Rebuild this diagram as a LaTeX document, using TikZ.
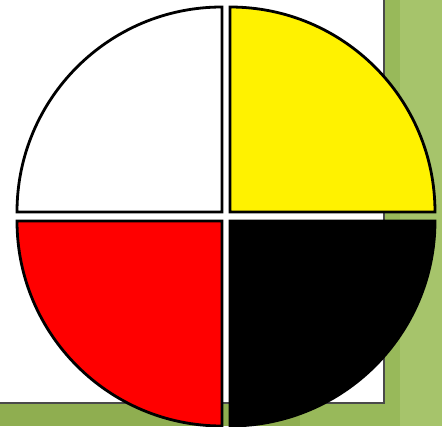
\documentclass[tikz,border=0pt]{standalone}
\begin{document}
\begin{tikzpicture}[x=1pt,y=1pt]
\definecolor{gdark}{HTML}{8FAE50}
\definecolor{gmid}{HTML}{98B95A}
\definecolor{glight}{HTML}{A6C46B}
\definecolor{frame}{HTML}{4A4A4A}
\tikzset{quad/.style={draw=black,line width=2.8pt,line join=miter}}
\useasboundingbox (0,0) rectangle (442,426);
% background
\fill[gdark] (0,0) rectangle (442,426);
\fill[gmid] (300,0) rectangle (442,426);
\fill[glight] (400,0) rectangle (442,426);
\fill[gmid] (385,23) rectangle (400,426);
\fill[white] (0,23) rectangle (384,426);
\draw[frame,line width=1.6pt] (384,426) -- (384,23) -- (0,23);
% quadrants
\path[quad,fill=white] (222,214) -- ++(-205,0) arc[start angle=180,end angle=90,radius=205] -- cycle;
\path[quad,fill=yellow] (230,214) -- ++(0,205) arc[start angle=90,end angle=0,radius=205] -- cycle;
\path[quad,fill=red] (222,205) -- ++(-205,0) arc[start angle=180,end angle=270,radius=205] -- cycle;
\path[quad,fill=black] (230,205) -- ++(205,0) arc[start angle=0,end angle=-90,radius=205] -- cycle;
\end{tikzpicture}
\end{document}
